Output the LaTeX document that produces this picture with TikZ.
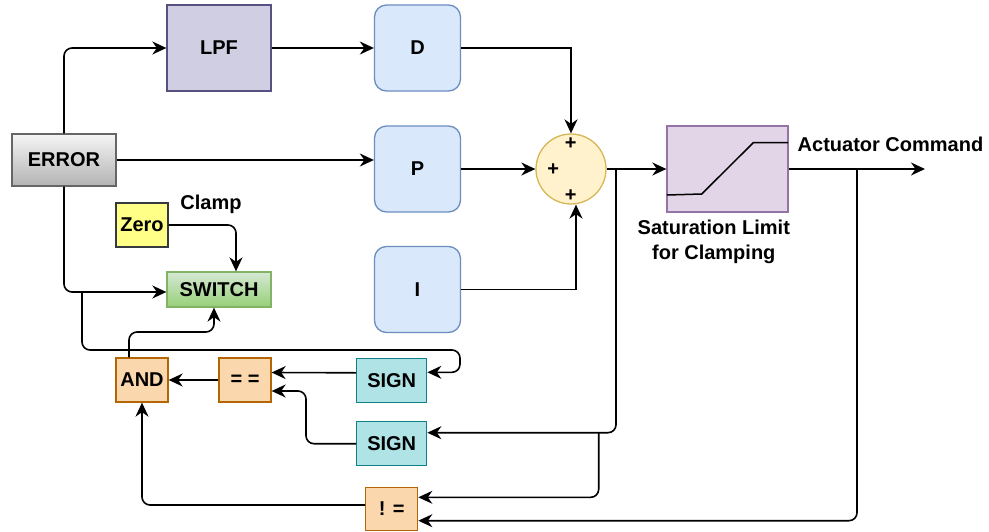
\documentclass[tikz,border=0pt]{standalone}
\usepackage{fontspec}
\setmainfont{Liberation Sans}
\usetikzlibrary{arrows.meta,calc}
\definecolor{errtop}{HTML}{F5F5F5}
\definecolor{errbot}{HTML}{B3B3B3}
\definecolor{errline}{HTML}{666666}
\definecolor{lpffill}{HTML}{D0CEE2}
\definecolor{lpfline}{HTML}{56517E}
\definecolor{pidfill}{HTML}{DAE8FC}
\definecolor{pidline}{HTML}{6C8EBF}
\definecolor{sumfill}{HTML}{FFF2CC}
\definecolor{sumline}{HTML}{D6B656}
\definecolor{satfill}{HTML}{E1D5E7}
\definecolor{satline}{HTML}{9673A6}
\definecolor{zerofill}{HTML}{FFFF88}
\definecolor{zeroline}{HTML}{36393D}
\definecolor{swtop}{HTML}{D5E8D4}
\definecolor{swbot}{HTML}{97D077}
\definecolor{swline}{HTML}{82B366}
\definecolor{logfill}{HTML}{FAD7AC}
\definecolor{logline}{HTML}{B46504}
\definecolor{sgnfill}{HTML}{B0E3E6}
\definecolor{sgnline}{HTML}{0E8088}
\tikzset{
  base/.style={draw, line width=1.3pt, font=\fontsize{20}{22}\selectfont\bfseries, inner sep=0pt, text=black},
  errbox/.style={base, draw=errline, top color=errtop, bottom color=errbot, minimum width=104pt, minimum height=52pt},
  lpfbox/.style={base, draw=lpfline, fill=lpffill, minimum width=104pt, minimum height=86pt},
  pidbox/.style={base, draw=pidline, fill=pidfill, rounded corners=12pt, minimum width=86pt, minimum height=86pt},
  sumnode/.style={base, circle, draw=sumline, fill=sumfill, minimum size=70pt},
  satbox/.style={base, draw=satline, fill=satfill, minimum width=121pt, minimum height=86pt},
  zerobox/.style={base, draw=zeroline, fill=zerofill, minimum width=52pt, minimum height=44pt},
  swbox/.style={base, draw=swline, top color=swtop, bottom color=swbot, minimum width=104pt, minimum height=35pt},
  logbox/.style={base, draw=logline, fill=logfill, minimum width=52pt, minimum height=44pt},
  sgnbox/.style={base, draw=sgnline, fill=sgnfill, minimum width=70pt, minimum height=44pt},
  lbl/.style={font=\fontsize{20}{25}\selectfont\bfseries, inner sep=0pt, align=center},
  plus/.style={font=\fontsize{20}{20}\selectfont\bfseries, inner sep=0pt},
  arr/.style={-{Stealth[length=14pt,width=13pt,inset=4.5pt]}, line width=1.6pt},
  rarr/.style={arr, rounded corners=8pt},
  wire/.style={line width=1.6pt, rounded corners=8pt}
}
\begin{document}
\begin{tikzpicture}[x=1pt,y=-1pt]
\useasboundingbox (0,0) rectangle (989,531);
% nodes
\node[errbox] (err) at (64,160) {ERROR};
\node[lpfbox] (lpf) at (219,48) {LPF};
\node[pidbox] (d) at (417.5,48) {D};
\node[pidbox] (p) at (417.5,169) {P};
\node[pidbox] (i) at (417.5,289.5) {I};
\node[sumnode] (sum) at (571,169) {};
\node[plus] (pt) at (570.7,144) {+};
\node[plus] (pl) at (553.3,170) {+};
\node[plus] (pb) at (570.7,195.7) {+};
\node[satbox] (sat) at (727.5,169) {};
\draw[line width=1.5pt] (667,195) -- (701.7,194) -- (753.3,142.7) -- (788,142.7);
\node[lbl] (satlbl) at (713.8,242) {Saturation Limit\\for Clamping};
\node[lbl] (actlbl) at (890.5,144) {Actuator Command};
\node[zerobox] (zero) at (142,225) {Zero};
\node[lbl] (clamp) at (211,204) {Clamp};
\node[swbox] (sw) at (219,289.5) {SWITCH};
\node[logbox] (and) at (142,380) {AND};
\node[logbox] (eq) at (245,380) {= =};
\node[sgnbox] (s1) at (391.7,380.3) {SIGN};
\node[sgnbox] (s2) at (391.7,443.7) {SIGN};
\node[logbox, minimum height=43pt] (ne) at (391.7,509) {! =};
% coordinates
\coordinate (out) at (925,169);
\coordinate (j1) at (616,169);
\coordinate (j2) at (598.7,432.7);
\coordinate (j3) at (857,169);
\coordinate (b1) at (82,292);
% connectors
\draw[rarr] (err.north) |- (lpf.west);
\draw[arr] (lpf.east) -- (d.west);
\draw[arr] (d.east) -| (sum.north);
\draw[arr] (err.east) -- (err.east -| p.west);
\draw[arr] (p.east) -- (sum.west);
\draw[arr] (i.east) -| ($(sum.south)+(5,0)$);
\draw[arr] (sum.east) -- (sat.west);
\draw[arr] (sat.east) -- (out);
\draw[rarr] (err.south) |- ($(sw.west)+(0,2.5)$);
\draw[rarr] (b1) -- (82,350) -- (460,350) -- (460,372.3) -- ($(s1.east)+(0,-8)$);
\draw[rarr] (zero.east) -| ($(sw.north)+(17,0)$);
\draw[rarr] ($(and.north)+(-13,0)$) -- (129,332) -- (214,332) -- ($(sw.south)+(-5,0)$);
\draw[arr] ($(s1.west)+(0,-7.5)$) -- ($(eq.east)+(0,-7.5)$);
\draw[rarr] (s2.west) -- (306,443.7) -- (306,391) -- ($(eq.east)+(0,11)$);
\draw[arr] (eq.west) -- (and.east);
\draw[rarr] ($(ne.west)+(0,-4)$) -| (and.south);
\draw[rarr] (j1) -- (616,432.7) -- ($(s2.east)+(0,-11)$);
\draw[rarr] (j2) -- (598.7,497.3) -- ($(ne.east)+(0,-11.7)$);
\draw[rarr] (j3) -- (857,520.7) -- ($(ne.east)+(0,11.7)$);
\end{tikzpicture}
\end{document}
